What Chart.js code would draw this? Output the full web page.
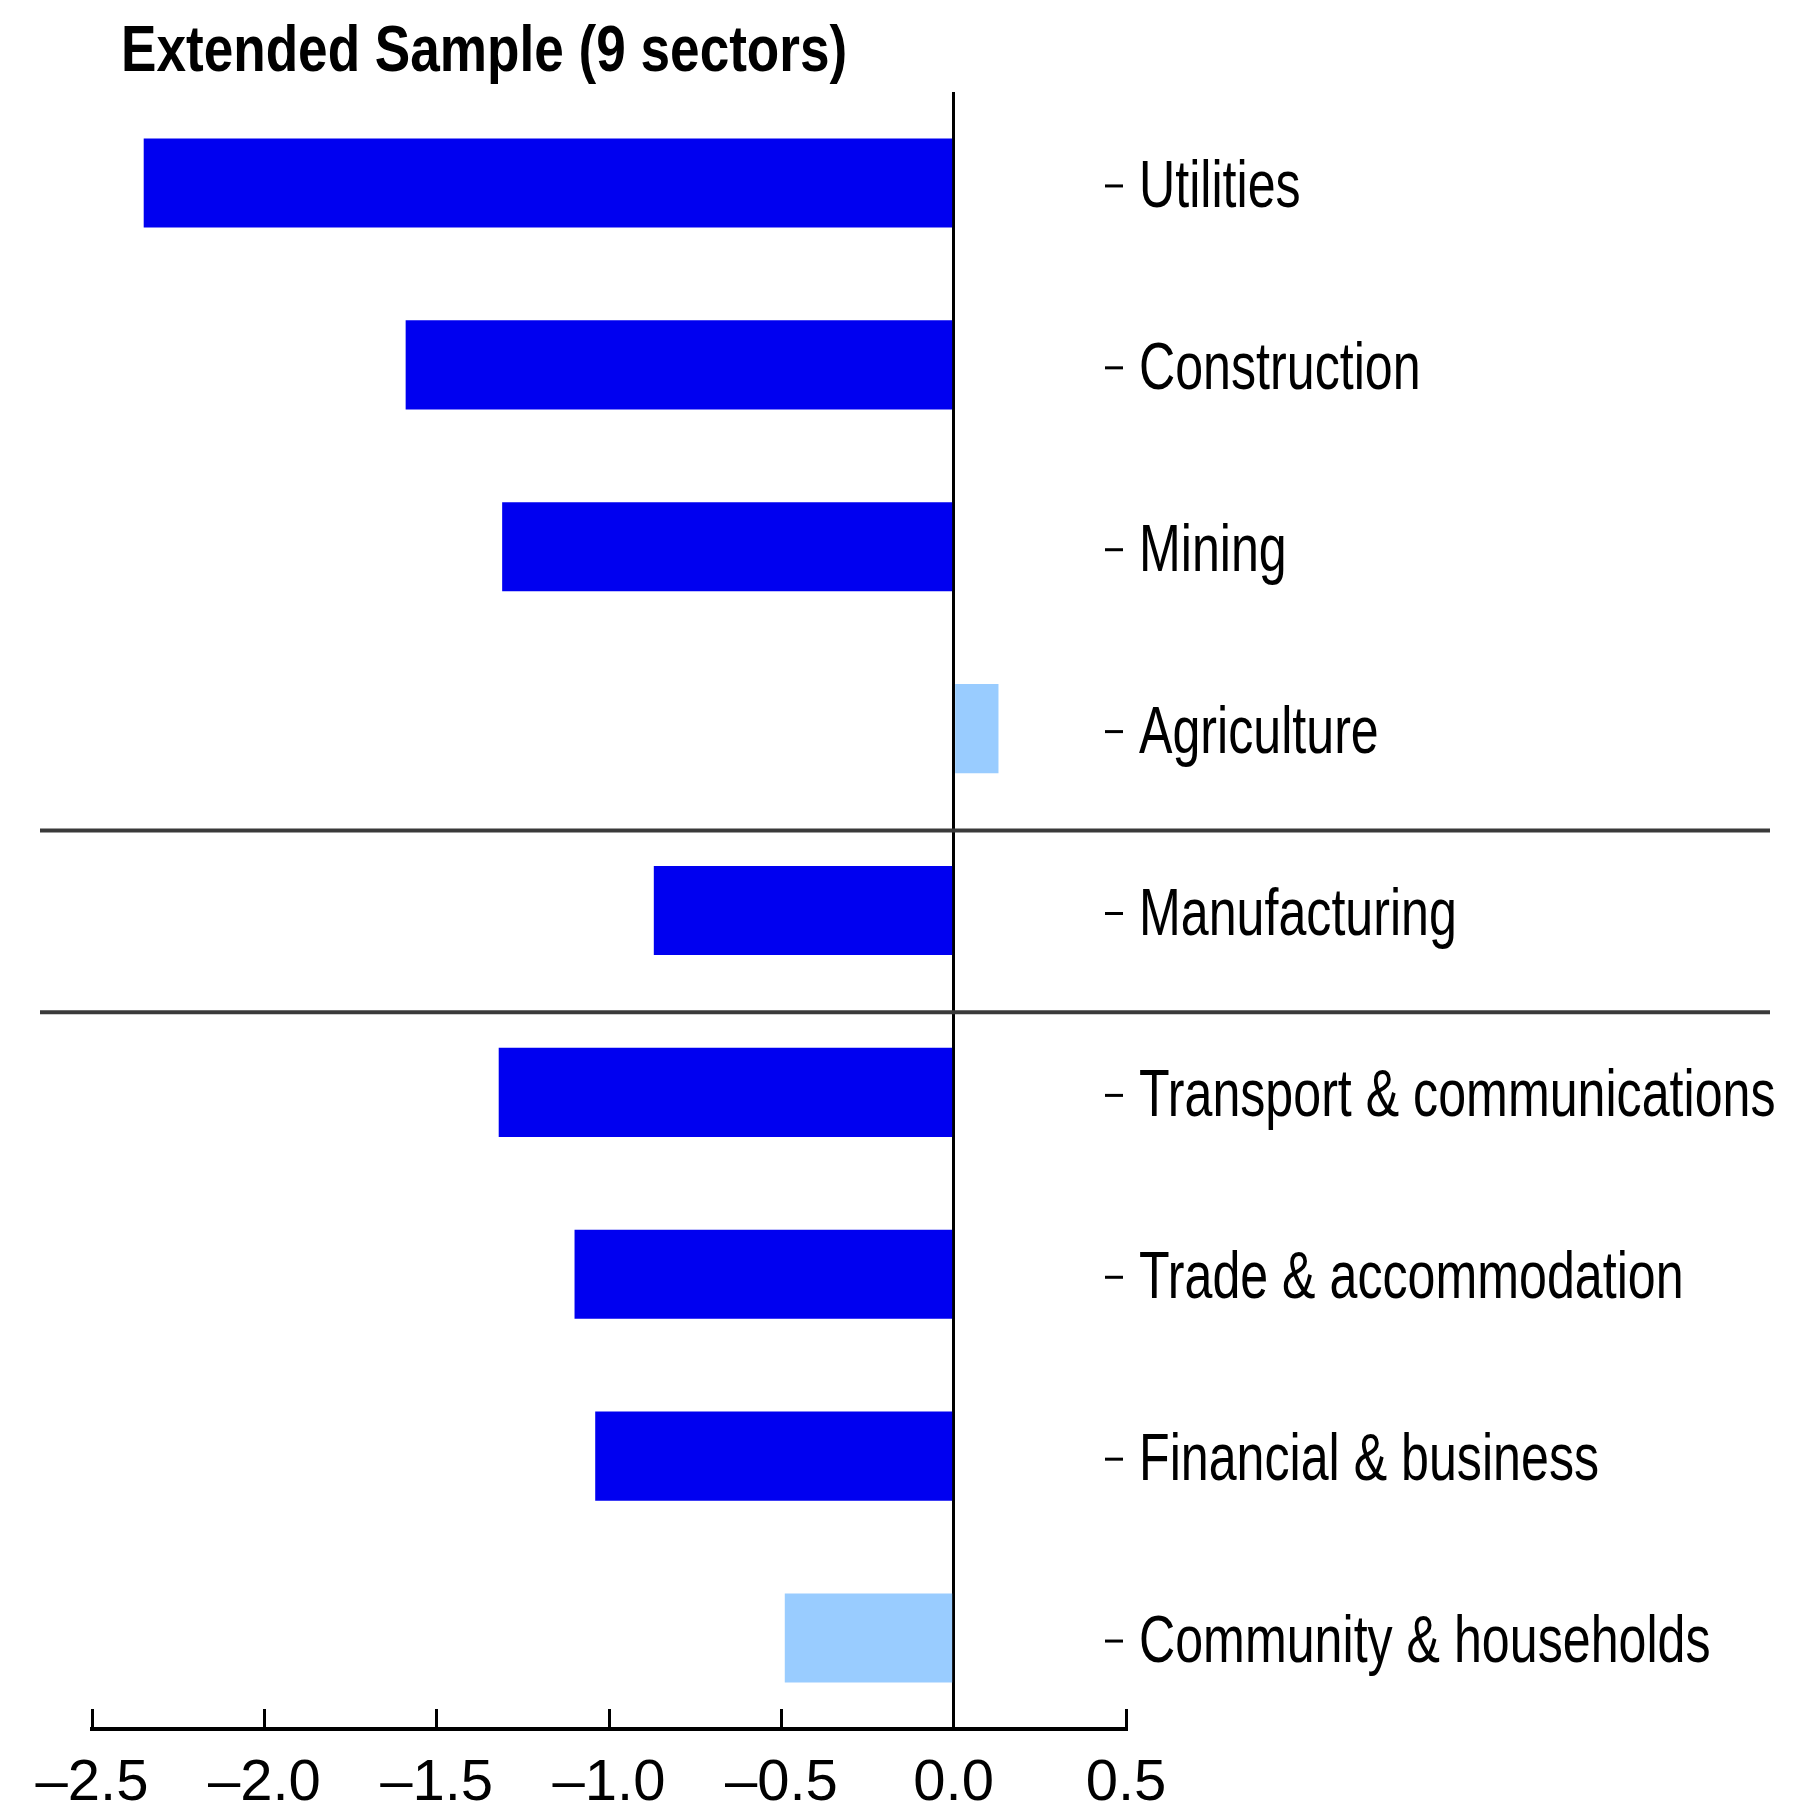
<!DOCTYPE html>
<html lang="en">

<head>
    <meta charset="utf-8">
    <title>Extended Sample (9 sectors)</title>
    <script src="https://cdn.jsdelivr.net/npm/chart.js@4.4.1/dist/chart.umd.min.js"></script>
    <style>
        body { margin: 0; background: #fff; }
        .wrap { position: relative; width: 1793px; height: 1805px; }
        .rubrik {
            position: absolute; left: 121px; top: 17px; margin: 0;
            font: bold 64px/64px 'Liberation Sans', Arial, sans-serif;
            color: #000; white-space: nowrap;
            transform: scaleX(0.83); transform-origin: left top;
        }
    </style>
</head>

<body>
    <div class="wrap">
        <h1 class="rubrik">Extended Sample (9 sectors)</h1>
        <canvas id="myChart" width="1793" height="1805"></canvas>
    </div>
    <script>
        // sektorer och värden
        const sectors = ['Utilities', 'Construction', 'Mining', 'Agriculture', 'Manufacturing',
            'Transport & communications', 'Trade & accommodation', 'Financial & business', 'Community & households'];
        const values = [-2.35, -1.59, -1.31, 0.13, -0.87, -1.32, -1.10, -1.04, -0.49];
        const significant = [true, true, true, false, true, true, true, true, false];
        const xTicks = [-2.5, -2.0, -1.5, -1.0, -0.5, 0.0, 0.5];
        // grupper avskiljs efter dessa index
        const groupBreaks = [3, 4];

        // etiketter (smal stil), streck och avdelare mellan grupper
        const extras = {
            id: 'extras',
            afterDraw(chart) {
                const c = chart.ctx, y = chart.scales.y, a = chart.chartArea;
                const step = y.getPixelForValue(1) - y.getPixelForValue(0);
                c.save();
                c.strokeStyle = '#000';
                c.lineWidth = 3;
                sectors.forEach((s, i) => {
                    const py = y.getPixelForValue(i);
                    c.beginPath();
                    c.moveTo(a.right - 21, py + 3);
                    c.lineTo(a.right - 3, py + 3);
                    c.stroke();
                    c.save();
                    c.translate(a.right + 13, py + 24);
                    c.scale(0.76, 1);
                    c.fillStyle = '#000';
                    c.font = "66px 'Liberation Sans', Arial, sans-serif";
                    c.textAlign = 'left';
                    c.textBaseline = 'alphabetic';
                    c.fillText(s, 0, 0);
                    c.restore();
                });
                c.strokeStyle = '#3a3a3a';
                c.lineWidth = 4;
                groupBreaks.forEach(b => {
                    const py = y.getPixelForValue(b) + step * 0.56;
                    c.beginPath();
                    c.moveTo(40, py);
                    c.lineTo(1770, py);
                    c.stroke();
                });
                c.restore();
            }
        };

        const ctx = document.getElementById('myChart').getContext('2d');
        const myChart = new Chart(ctx, {
            type: 'bar',
            data: {
                labels: sectors,
                datasets: [{
                    data: values,
                    backgroundColor: significant.map(s => s ? '#0000f0' : '#99ccff'),
                    borderWidth: 0,
                    categoryPercentage: 1,
                    barPercentage: 0.49
                }]
            },
            options: {
                indexAxis: 'y',
                responsive: false,
                animation: false,
                layout: { padding: { left: 92, top: 92, right: 0, bottom: 0 } },
                plugins: { legend: { display: false }, tooltip: { enabled: false } },
                scales: {
                    x: {
                        min: -2.5,
                        max: 0.5,
                        afterBuildTicks: s => { s.ticks = xTicks.map(v => ({ value: v })); },
                        border: { display: true, color: '#000', width: 4 },
                        grid: {
                            color: c => c.tick && c.tick.value === 0 ? '#000' : 'rgba(0,0,0,0)',
                            lineWidth: 3,
                            tickColor: '#000',
                            tickWidth: 3,
                            tickLength: -20
                        },
                        ticks: {
                            color: '#000',
                            padding: 40,
                            maxRotation: 0,
                            font: { family: "'Liberation Sans', Arial, sans-serif", size: 58 },
                            callback: v => v.toFixed(1).replace('-', '\u2013')
                        },
                        afterFit: s => { s.height = 76; s.paddingLeft = 0; s.paddingRight = 0; }
                    },
                    y: {
                        position: 'right',
                        border: { display: false },
                        grid: { display: false },
                        ticks: { display: false },
                        afterFit: s => { s.width = 667; }
                    }
                }
            },
            plugins: [extras]
        });
    </script>
</body>

</html>
